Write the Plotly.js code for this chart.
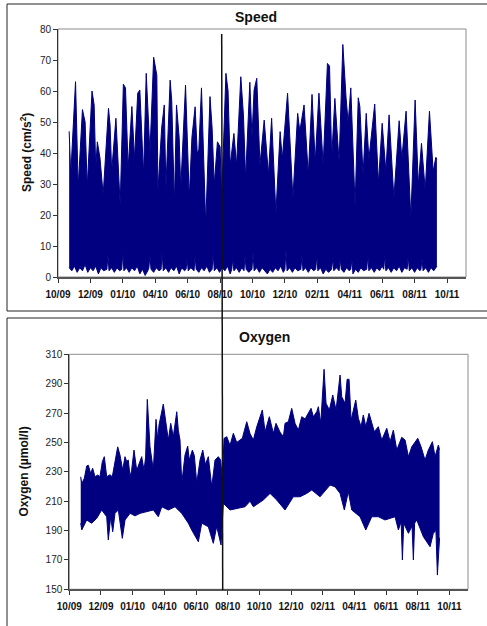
<!DOCTYPE html>
<html>
<head>
<meta charset="utf-8">
<script src="https://cdn.plot.ly/plotly-3.0.1.min.js"></script>
<style>
  html, body { margin: 0; padding: 0; background: #fff; }
  #chart { width: 487px; height: 626px; }
</style>
</head>
<body>
<div id="chart"></div>
<script>
// Mooring record: current speed and dissolved oxygen, Oct 2009 - Sep 2011.
// Each series is stored as its upper and lower envelope, in days since 1 Oct 2009.

const speedUpperDay = [21,24,33,38,46,51,55,64,68,71,74,79,85,95,98,101,109,117,123,127,132,139,144,150,154,161,166,169,173,180,186,188,195,200,203,211,214,219,223,228,231,240,247,252,258,262,265,270,278,286,290,294,300,305,308,311,316,320,324,331,336,344,349,353,361,365,369,374,380,388,396,402,410,418,422,432,442,451,455,463,471,478,484,491,499,507,511,515,521,529,536,542,546,551,559,565,568,574,580,585,596,603,610,617,623,632,642,647,655,664,672,678,684,691,699,706,711,713];
const speedUpper    = [47,33,63,29,54,50,29,60,55.5,35,43.6,38.4,26.5,54.4,49,34,51.2,23,62.2,61,35,55,38,59.3,60.3,33,65.7,56,40,70.9,65,27.5,48,55.5,28.6,63.5,57,23.2,55.5,45,28.6,61.9,25.4,45,54.9,40,41,61,16.8,58.2,48,29.7,43.6,42,25,40.4,65.7,60,36,46.3,36,64.6,52,31.8,62.8,45,60.3,64.1,36.1,50.6,33,51.2,20.5,46.9,38,59.3,25.4,52.8,47,55.5,32.9,58.9,37,59.3,36.1,68.9,68,38.3,57.6,37,75,58,49.7,61,23,57.8,55,32.9,52.8,38,55.8,30.2,49.6,34,52.3,25.4,50.4,38,53.5,18.9,57.1,29.7,43.1,28,53.5,34,38.6,38];

const speedLowerDay = [21,26,31,36,41,46,51,56,61,66,71,76,81,86,92,94,96,101,106,111,116,120,122,124,129,134,139,144,149,154,159,164,169,171,173,175,180,185,190,194,196,198,203,208,213,218,223,228,233,238,241,243,245,250,256,258,260,265,270,275,280,285,290,292,294,299,304,309,314,319,324,327,329,331,336,341,346,350,352,354,359,365,367,369,374,379,384,389,394,399,404,409,414,419,424,427,429,431,436,441,446,451,457,459,461,466,471,476,481,485,487,489,494,499,504,509,515,517,519,524,529,531,533,538,543,548,551,553,555,560,565,570,575,581,583,585,590,595,600,605,610,613,615,617,622,627,632,637,642,647,652,657,659,661,666,671,676,681,683,685,687,692,697,702,707,713];
const speedLower    = [3,2,3.5,1.5,3,2,4,1.5,3,2,3.5,1,3,2,2.5,7,2,3,1.5,3,2,2.5,8,2,3,1.5,3,2,3.5,1,2.5,0.5,2,3,7,2.5,1.5,3,2,2.5,8,2,3,1.5,3,2,3.5,1,3,2,2.5,6,2,3,2,7,2.5,1.5,3,2,3.5,1.5,2.5,8,2,3,1.5,3,2,3.5,1,2.5,6,2,3,1.5,3,2,7,2.5,1.5,2.5,8,2,3,1.5,3,2,1,2.5,1.5,3,2,3.5,1.5,2.5,9,2,3,1.5,3,2,2.5,7,2,3,1.5,3,2,2.5,7,2,3,1,2.5,1.5,2.5,6,2,3,2,6,2.5,1.5,3,2,2.5,6,1,2.5,1.5,3,2,2.5,7,2,3,1.5,3,2,3.5,2.5,7,2,3,1.5,3,2,3.5,1.5,3,2.5,7,2,3,1.5,3,2,2.5,6,2,3,1.5,3,2,3.5];

const oxyUpperDay = [22,24,29,33.5,36.6,41,45,49.5,54.7,59,63.6,67.4,72,78.4,82.8,88,93.2,97.6,102.8,107.3,110.5,113.6,117,120,124.6,129.8,134.2,139.4,143.9,147,150.2,152.2,155.4,161.8,167,170.3,172.8,181,185.7,190.7,195.3,200.3,206.9,210,213.2,216.5,222.8,228,231,237,240.8,245.4,251.7,257,262,267.7,274.3,280.6,287,291.4,294.7,298,303.2,309.5,315.9,322.4,333.2,341.7,348,354.4,361,371.7,377,385.2,393,398,405.8,412.2,415.4,421.8,428.3,434.7,441,447.6,454,465.5,470,476.5,479.6,484.2,490.6,494.4,500.8,507.3,513.7,521.4,524.6,531,535,538.7,542.6,551.6,556.6,561.8,566.2,570.9,577.2,582.4,587.4,595.1,601.7,611.3,617.7,624,630.6,640.2,646.6,653,659.5,671,677.4,685,691.4,699.2,704.3,710.7,713];
const oxyUpper    = [226.6,222,225.6,234,234.5,229,232.4,226.6,227.8,226.6,236.9,240.3,226.6,228,226.6,238,247,241.4,231.2,240.3,237,238,226.6,231,244.8,231,235.8,240.3,231,240,279.3,263,247,231.2,265.7,251.6,262,276.1,263,251.6,263,254,270.9,258,251.6,222.2,241.4,247.5,238,244.8,241,222.2,238,244.8,235,240.3,219.8,238,240.3,238,225,252.8,253.9,248,256.2,250,252.8,264.1,256,251.6,260.7,272.1,257.3,267.5,256.2,263,257,253.9,263,264.1,273.2,263,258.4,267.5,266,273.2,267.5,270.9,274.3,263,299.8,276.6,272.1,282.3,272.1,295.9,281.1,276.6,293,293,265.2,278.9,266.4,260.7,268.7,260.7,269.8,263,257.3,260.7,251.6,259.6,250.5,258.4,244.8,253.5,251.6,240.3,247,252.8,247,238,244.8,250.5,240.3,248.2,245];

const oxyLowerDay = [22,24,33.5,43,52.8,62.4,72,75.1,79.7,83.6,88,94.4,102.1,107.3,117,126.5,136.2,149,161.8,171.4,178,190.7,203.6,216.5,229.2,235.7,248.5,255,267.7,277.3,283.9,292.2,296.6,309.5,325.5,338.4,348,354.4,373.6,386.6,399.4,415.4,431.4,444.3,457.2,466.9,482.9,502.1,511.7,521.4,529.6,537.3,543.9,559.9,570.9,582.4,595.1,608,627.3,633.7,639,641.4,644,653,660,662.6,665,669.1,681.8,694.7,701,706,708.8,711,713];
const oxyLower    = [195,190.4,197.2,195,198.3,204,199.4,183.6,199.4,189.2,201.7,204,184.7,197.2,201.7,200,201.7,202.8,204,199.4,206.2,204,206.2,201.7,195,190.4,182.4,195,192.6,181.3,192.8,180.2,208.5,204,205.1,206.2,210,206.2,210.8,215.3,210.8,204,213,213,215.3,217.6,213,221,219.8,215.3,204,216.4,204,199.4,190.4,199.4,199.4,197.2,199.4,190.4,196,170,195,188.1,193,170,195,197.2,185.8,179,188.1,190,159.7,179,185];

// Date axis labels: one tick every 61 days from 1 Oct 2009, written mm/yy
const tickStart = '2009-10-01';
const tickStepDays = 61;
const axisEnd = '2011-11-07 18:00';

const T0 = Date.UTC(2009, 9, 1);
const toDate = d => new Date(T0 + d * 864e5).toISOString().slice(0, 16).replace('T', ' ');

const W = 487, H = 626;
const px = x => x / W;          // pixel column -> paper x
const py = y => 1 - y / H;      // pixel row    -> paper y

const NAVY = '#000080';
const FONT = 'Liberation Sans, Arial, sans-serif';

function band(days, vals, xa, ya, fill) {
  return {
    x: days.map(toDate), y: vals, xaxis: xa, yaxis: ya,
    type: 'scatter', mode: 'lines',
    line: { color: NAVY, width: 1 },
    fill: fill ? 'tonexty' : 'none', fillcolor: NAVY,
    hoverinfo: 'skip', showlegend: false
  };
}

const traces = [
  band(speedLowerDay, speedLower, 'x', 'y', false),
  band(speedUpperDay, speedUpper, 'x', 'y', true),
  band(oxyLowerDay, oxyLower, 'x2', 'y2', false),
  band(oxyUpperDay, oxyUpper, 'x2', 'y2', true)
];

function dateAxis(domain, anchor, lineWidth) {
  return {
    domain: domain, anchor: anchor, type: 'date',
    range: [tickStart, axisEnd],
    tick0: tickStart, dtick: tickStepDays * 864e5, tickformat: '%m/%y',
    ticks: 'outside', ticklen: 4, tickcolor: '#333', tickwidth: 1,
    showline: true, linecolor: '#555', linewidth: lineWidth,
    showgrid: false, zeroline: false, automargin: false,
    tickfont: { family: FONT, size: 10, color: '#111', weight: 'bold' },
    ticklabelstandoff: 3
  };
}
function valueAxis(domain, anchor, range, step) {
  return {
    domain: domain, anchor: anchor, range: range, dtick: step, tick0: range[0],
    ticks: 'outside', ticklen: 4, tickcolor: '#333', tickwidth: 1,
    showline: true, linecolor: '#333', linewidth: 1,
    showgrid: false, zeroline: false, automargin: false,
    tickfont: { family: FONT, size: 10, color: '#222' }
  };
}

const layout = {
  width: W, height: H,
  margin: { l: 0, r: 0, t: 0, b: 0 },
  paper_bgcolor: '#fff', plot_bgcolor: '#fff',
  showlegend: false,
  xaxis:  dateAxis([px(58), px(466)], 'y', 1.5),
  yaxis:  valueAxis([py(277), py(29)], 'x', [0, 80], 10),
  xaxis2: dateAxis([px(69.3), px(468)], 'y2', 1.5),
  yaxis2: valueAxis([py(589.3), py(354.3)], 'x2', [150, 310], 20),
  annotations: [
    { text: '<b>Speed</b>', x: px(255.5), y: py(17), xref: 'paper', yref: 'paper',
      xanchor: 'center', yanchor: 'middle', showarrow: false,
      font: { family: FONT, size: 14, color: '#111' } },
    { text: '<b>Oxygen</b>', x: px(264), y: py(336.5), xref: 'paper', yref: 'paper',
      xanchor: 'center', yanchor: 'middle', showarrow: false,
      font: { family: FONT, size: 14, color: '#111' } },
    { text: '<b>Speed (cm/s<sup>2</sup>)</b>', x: px(26), y: py(153), xref: 'paper', yref: 'paper',
      xanchor: 'center', yanchor: 'middle', textangle: -90, showarrow: false,
      font: { family: FONT, size: 12, color: '#111' } },
    { text: '<b>Oxygen (µmol/l)</b>', x: px(23.5), y: py(472), xref: 'paper', yref: 'paper',
      xanchor: 'center', yanchor: 'middle', textangle: -90, showarrow: false,
      font: { family: FONT, size: 12, color: '#111' } }
  ],
  shapes: [
    // outer frames of the two panels
    { type: 'rect', xref: 'paper', yref: 'paper', x0: px(7), x1: 1.05, y0: py(311), y1: py(4),
      line: { color: '#222', width: 1 }, layer: 'below' },
    { type: 'rect', xref: 'paper', yref: 'paper', x0: px(7), x1: 1.05, y0: -0.05, y1: py(318),
      line: { color: '#222', width: 1 }, layer: 'below' },
    // plot-area borders
    { type: 'rect', xref: 'paper', yref: 'paper', x0: px(58), x1: px(466), y0: py(277), y1: py(29),
      line: { color: '#8c8c8c', width: 1 }, layer: 'below' },
    { type: 'rect', xref: 'paper', yref: 'paper', x0: px(69.3), x1: px(468), y0: py(589.3), y1: py(354.3),
      line: { color: '#8c8c8c', width: 1 }, layer: 'below' },
    // marker line running through both panels
    { type: 'line', xref: 'paper', yref: 'paper', x0: px(221.7), y0: py(34), x1: px(222.7), y1: py(590),
      line: { color: '#111', width: 1.5 }, layer: 'above' }
  ]
};

Plotly.newPlot('chart', traces, layout, { staticPlot: true, displayModeBar: false });
</script>
</body>
</html>
